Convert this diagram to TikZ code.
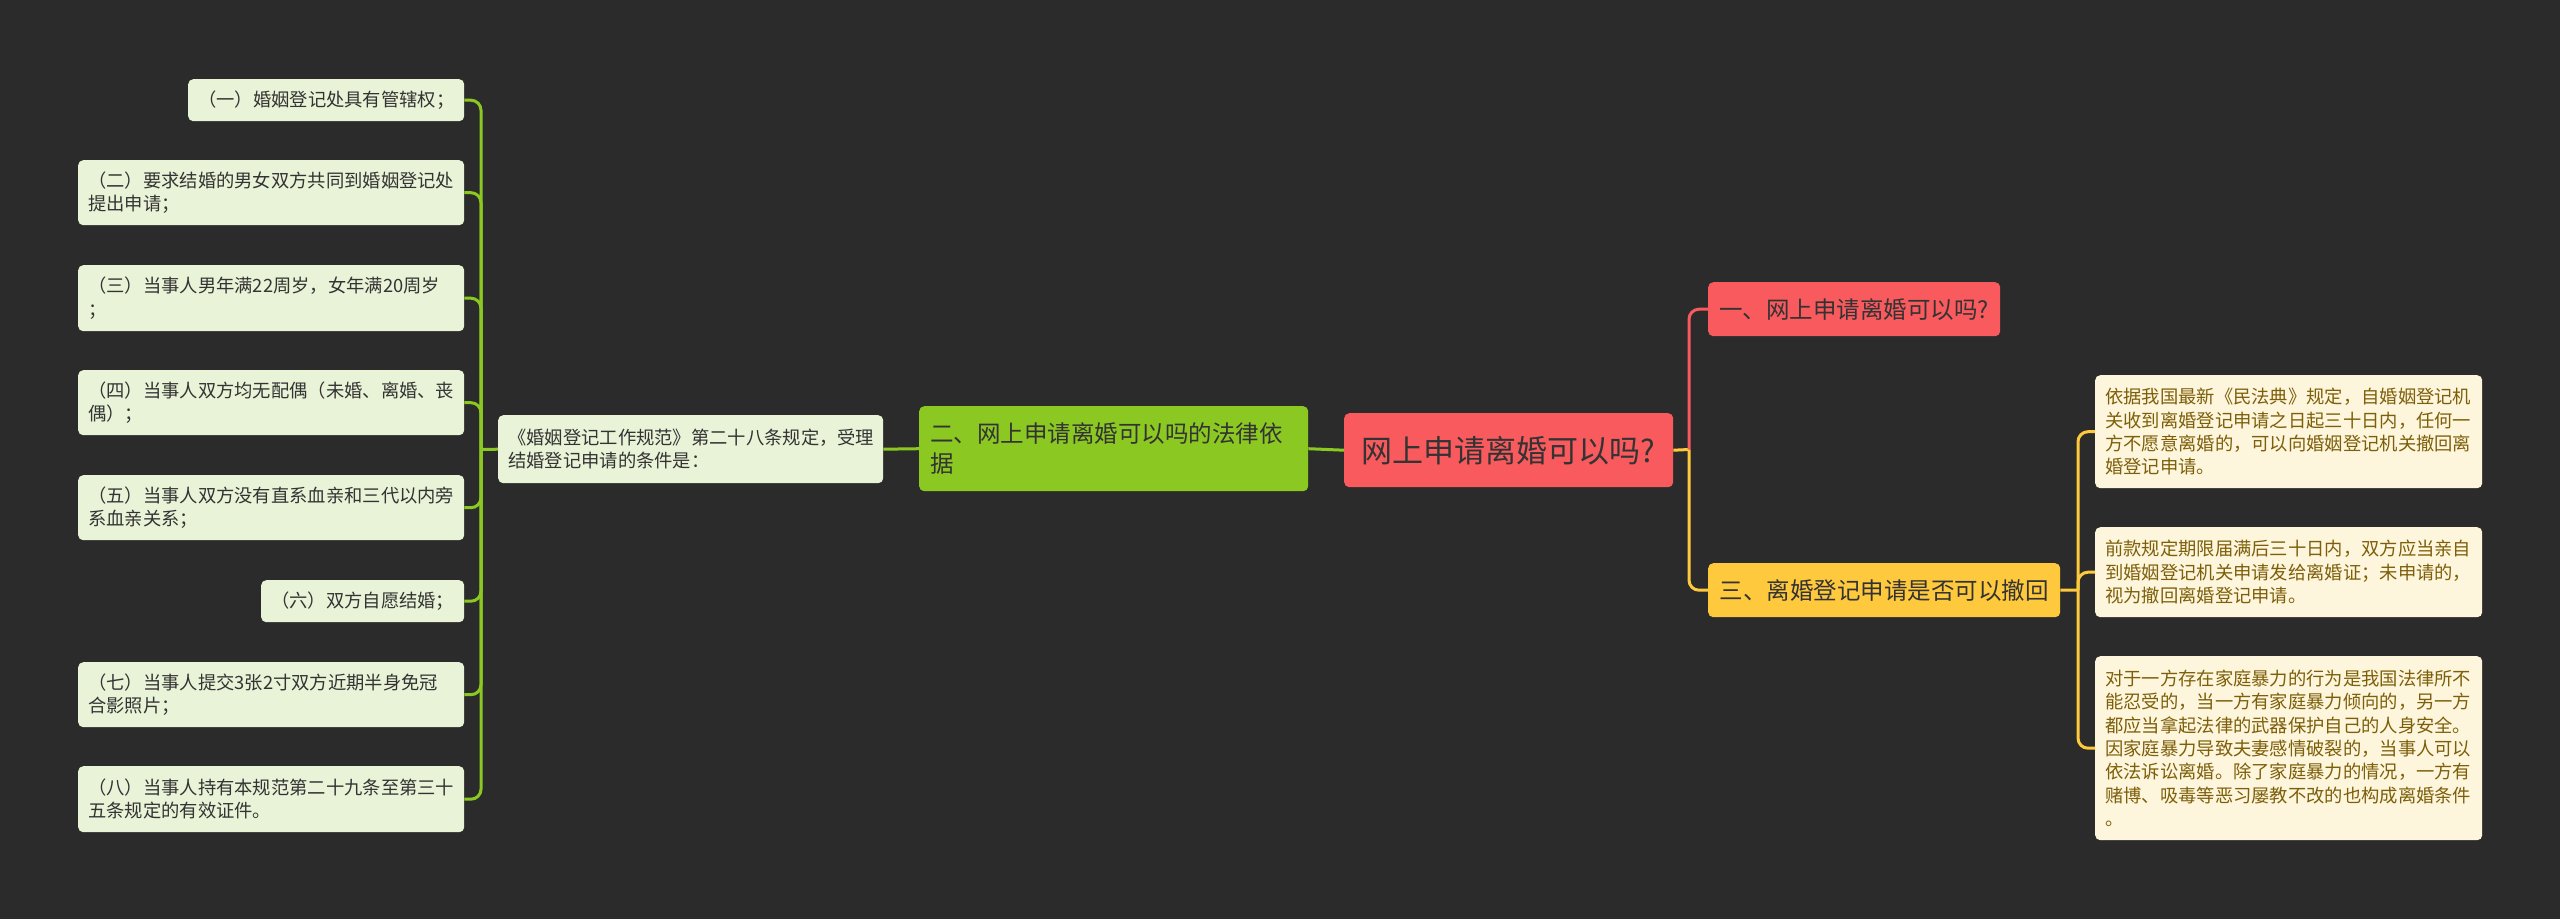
\documentclass[tikz,border=0pt]{standalone}
\usepackage{fontspec}
\setmainfont{Noto Sans CJK SC}
\definecolor{bg}{HTML}{2B2B2B}
\definecolor{lgreen}{HTML}{E9F3D7}
\definecolor{gtext}{HTML}{333333}
\definecolor{lyellow}{HTML}{FDF5DC}
\definecolor{ytext}{HTML}{7D5F0A}
\definecolor{mred}{HTML}{F85A5E}
\definecolor{mgreen}{HTML}{8BC822}
\definecolor{myellow}{HTML}{FFC93D}
\begin{document}
\begin{tikzpicture}[x=1pt,y=-1pt,
  box/.style={rounded corners=5pt, inner xsep=10pt, inner ysep=0pt, align=left, anchor=north west},
  leafG/.style={box, fill=lgreen, text=gtext, font=\fontsize{18.3pt}{23.3pt}\selectfont},
  leafY/.style={box, fill=lyellow, text=ytext, font=\fontsize{18.3pt}{23.3pt}\selectfont},
  topic/.style={rounded corners=5pt, inner sep=0pt, align=center, text=gtext, font=\fontsize{23.5pt}{30pt}\selectfont, anchor=north west},
  gline/.style={draw=mgreen, line width=3pt},
  rline/.style={draw=mred, line width=3pt},
  yline/.style={draw=myellow, line width=3pt},
  rc/.style={rounded corners=10pt}
]
\fill[bg] (0,0) rectangle (2560,919);
\useasboundingbox (0,0) rectangle (2560,919);

% left leaves
\node[leafG, minimum width=276pt, minimum height=42pt, text width=256pt] (p1) at (188,79) {（一）婚姻登记处具有管辖权；};
\node[leafG, minimum width=386pt, minimum height=65pt, text width=366pt] (p2) at (78,160) {（二）要求结婚的男女双方共同到婚姻登记处\\提出申请；};
\node[leafG, minimum width=386pt, minimum height=66pt, text width=366pt] (p3) at (78,265) {（三）当事人男年满22周岁，女年满20周岁\\；};
\node[leafG, minimum width=386pt, minimum height=65pt, text width=366pt] (p4) at (78,370) {（四）当事人双方均无配偶（未婚、离婚、丧\\偶）；};
\node[leafG, minimum width=386pt, minimum height=65pt, text width=366pt] (p5) at (78,475) {（五）当事人双方没有直系血亲和三代以内旁\\系血亲关系；};
\node[leafG, minimum width=203pt, minimum height=42pt, text width=183pt] (p6) at (261,580) {（六）双方自愿结婚；};
\node[leafG, minimum width=386pt, minimum height=65pt, text width=366pt] (p7) at (78,662) {（七）当事人提交3张2寸双方近期半身免冠\\合影照片；};
\node[leafG, minimum width=386pt, minimum height=66pt, text width=366pt] (p8) at (78,766) {（八）当事人持有本规范第二十九条至第三十\\五条规定的有效证件。};

% hub
\node[leafG, minimum width=385pt, minimum height=68pt, text width=365pt] (hub) at (498,415) {《婚姻登记工作规范》第二十八条规定，受理\\结婚登记申请的条件是：};

% green topic
\node[topic, fill=mgreen, align=left, inner xsep=11pt, minimum width=389pt, minimum height=85pt, text width=367pt] (g2) at (919,406) {二、网上申请离婚可以吗的法律依\\据};

% central
\node[topic, fill=mred, minimum width=329pt, minimum height=74pt, font=\fontsize{31pt}{36pt}\selectfont] (c) at (1344,413) {网上申请离婚可以吗?};

% right topics
\node[topic, fill=mred, minimum width=292pt, minimum height=54pt] (s1) at (1708,282) {一、网上申请离婚可以吗?};
\node[topic, fill=myellow, minimum width=352pt, minimum height=54pt] (s3) at (1708,563) {三、离婚登记申请是否可以撤回};

% right leaves
\node[leafY, minimum width=387pt, minimum height=113pt, text width=367pt] (rA) at (2095,375) {依据我国最新《民法典》规定，自婚姻登记机\\关收到离婚登记申请之日起三十日内，任何一\\方不愿意离婚的，可以向婚姻登记机关撤回离\\婚登记申请。};
\node[leafY, minimum width=387pt, minimum height=90pt, text width=367pt] (rB) at (2095,527) {前款规定期限届满后三十日内，双方应当亲自\\到婚姻登记机关申请发给离婚证；未申请的，\\视为撤回离婚登记申请。};
\node[leafY, minimum width=387pt, minimum height=184pt, text width=367pt] (rC) at (2095,656) {对于一方存在家庭暴力的行为是我国法律所不\\能忍受的，当一方有家庭暴力倾向的，另一方\\都应当拿起法律的武器保护自己的人身安全。\\因家庭暴力导致夫妻感情破裂的，当事人可以\\依法诉讼离婚。除了家庭暴力的情况，一方有\\赌博、吸毒等恶习屡教不改的也构成离婚条件\\。};

% junctions
\coordinate (jL) at (481,449.5);
\coordinate (jR) at (1689,449.5);
\coordinate (jR2) at (2078,590);

% connectors left
\draw[gline] (hub.west) -- (jL);
\foreach \n in {p1,p2,p3,p4,p5,p6,p7,p8}{
  \draw[gline, rc] (jL) |- (\n.east);
}
\draw[gline] (hub.east) -- (g2.west);
\draw[gline] (g2.east) -- (c.west);

% connectors right
\draw[yline] (c.east) -- (jR);
\draw[rline, rc] (jR) |- (s1.west);
\draw[yline, rc] (jR) |- (s3.west);
\draw[yline] (s3.east) -- (jR2);
\foreach \n in {rA,rB,rC}{
  \draw[yline, rc] (jR2) |- (\n.west);
}
\end{tikzpicture}
\end{document}
